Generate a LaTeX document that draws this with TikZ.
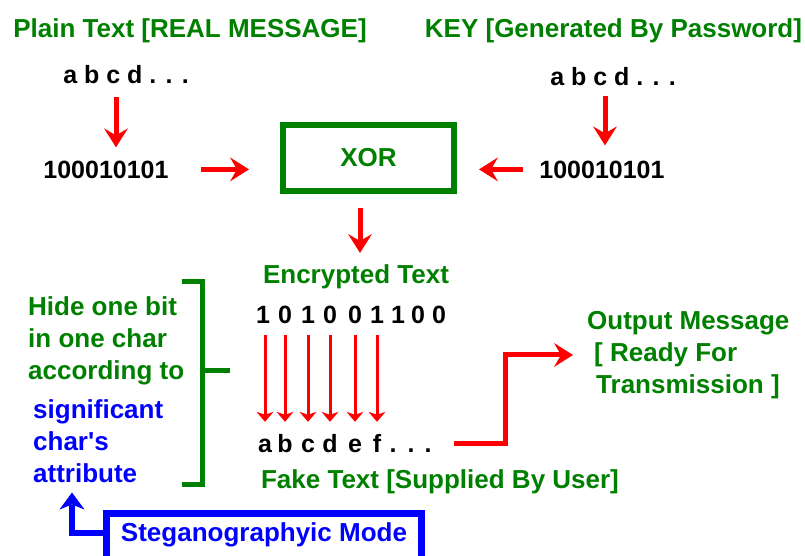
\documentclass[tikz,border=0pt]{standalone}
\usepackage{fontspec}
\setmainfont{Liberation Sans}
\usetikzlibrary{arrows.meta}
\definecolor{dgreen}{RGB}{0,128,0}
\definecolor{myred}{RGB}{255,0,0}
\definecolor{myblue}{RGB}{0,0,255}
\begin{document}
\begin{tikzpicture}[x=1pt,y=-1pt,
  lbl/.style={font=\bfseries\fontsize{26}{32}\selectfont, inner sep=0pt, text=dgreen},
  bluelbl/.style={font=\bfseries\fontsize{26}{32}\selectfont, inner sep=0pt, text=myblue},
  blk/.style={font=\bfseries\fontsize{25}{30}\selectfont, inner sep=0pt, text=black},
  chr/.style={blk, text height=18pt, text depth=0pt, anchor=base},
  bigarr/.style={draw=myred, line width=5pt, -{Stealth[length=19pt,width=24pt,inset=7pt,line width=0pt]}},
  thinarr/.style={draw=myred, line width=3pt, -{Stealth[length=10pt,width=17pt,inset=3pt,line width=0pt]}},
  bluearr/.style={draw=myblue, line width=6pt, -{Stealth[length=17pt,width=25pt,inset=5pt,line width=0pt]}},
  brace/.style={draw=dgreen, line width=5pt, line join=miter}
]
\fill[white] (0,0) rectangle (805,555);
\useasboundingbox (0,0) rectangle (805,555);

% titles
\node[lbl, anchor=base] (plain) at (190,37) {Plain Text [REAL MESSAGE]};
\node[lbl, anchor=base] (key) at (613.5,37) {KEY [Generated By Password]};

\node[blk, anchor=base] (abcdL) at (126,83) {a b c d . . .};
\node[blk, anchor=base] (abcdR) at (613,85) {a b c d . . .};
\node[blk, anchor=base] (binL) at (106,178) {100010101};
\node[blk, anchor=base] (binR) at (602,178) {100010101};

\node[draw=dgreen, line width=6pt, minimum width=171pt, minimum height=66pt, lbl] (xor) at (368.5,158) {XOR};

\draw[bigarr, shorten <=14pt, shorten >=13pt] ([xshift=-10pt]abcdL.south) -- ([xshift=10pt]binL.north);
\draw[bigarr, shorten <=11pt, shorten >=15pt] ([xshift=-8pt]abcdR.south) -- ([xshift=3pt]binR.north);
\draw[bigarr, shorten <=32pt, shorten >=31pt] (binL.east) -- (binL.east -| xor.west);
\draw[bigarr, shorten <=16pt, shorten >=22pt] (binR.west) -- (binR.west -| xor.east);

\node[lbl, anchor=base] (enc) at (356,283) {Encrypted Text};
\draw[bigarr, shorten <=14pt, shorten >=11pt] ([xshift=-8.5pt]xor.south) -- ([xshift=-8.5pt]xor.south |- enc.north);

% bits
\foreach \i/\x/\t in {1/263/1,2/285/0,3/308/1,4/330/0,5/355/0,6/377/1,7/398/1,8/418/0,9/439/0}
  \node[chr] (d\i) at (\x,323) {\t};
% fake letters
\foreach \i/\x/\t in {1/265/a,2/285/b,3/308/c,4/330/d,5/355/e,6/377/f,7/393/.,8/411/.,9/428/.}
  \node[chr] (l\i) at (\x,452) {\t};
\foreach \i in {1,...,6}
  \draw[thinarr, shorten <=12pt, shorten >=12pt] (l\i.north |- d\i.south) -- (l\i.north);

\node[lbl, anchor=base] (fake) at (440,488) {Fake Text [Supplied By User]};

% output
\node[lbl, anchor=north west, align=left] (out) at (587,311) {Output Message\\\hspace{7pt}[ Ready For\\\hspace{9pt}Transmission ]};
\draw[bigarr, line join=miter, shorten <=22pt, shorten >=14pt] (l9.east) -| ([xshift=-82pt]out.west) |- (out.west);

% hide text
\node[lbl, anchor=north west, align=left] (hide) at (28,296) {Hide one bit\\in one char\\according to};
\node[bluelbl, anchor=north west, align=left] (sig) at (33,399) {significant\\char\textquotesingle s\\attribute};

% bracket
\draw[brace] (182,281) -- (202.5,281) -- (202.5,484) -- (182,484);
\draw[brace] (202.5,370) -- (230,370);

% steganographic mode
\node[draw=myblue, line width=7pt, minimum width=315pt, minimum height=50pt, bluelbl, text depth=12pt] (steg) at (264,538.5) {Steganographyic Mode};
\draw[bluearr, line join=miter, shorten >=10pt] ([yshift=6pt]steg.west) -| ([xshift=39pt]sig.south west);
\end{tikzpicture}
\end{document}
